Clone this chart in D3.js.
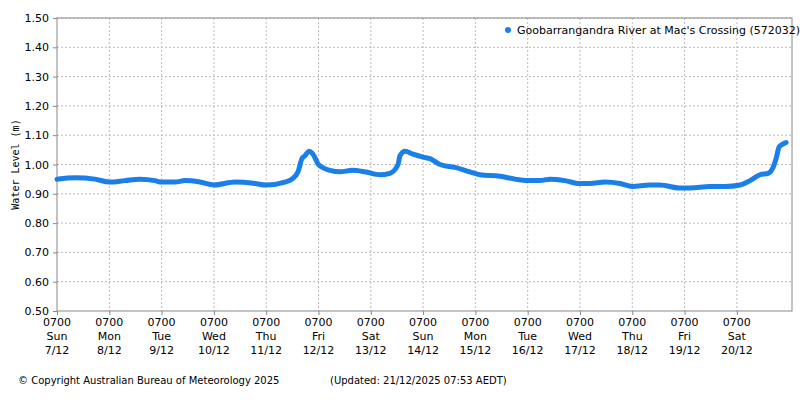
<!DOCTYPE html>
<html lang="en">
<head>
<script src="https://d3js.org/d3.v7.min.js"></script>
<style>
  body { margin: 0; background: #fff; }
  text { font-family: "DejaVu Sans", Verdana, sans-serif; font-size: 11px; fill: #000; }
  .grid line { stroke: #bbb; stroke-dasharray: 2,2; }
</style>
</head>
<body>
<svg></svg>
<script>
    const width = 800;
    const height = 400;
    const svg = d3.select('svg').attr('width', width).attr('height', height);

    // hours since 0700 Sun 7/12 and water level (m)
    const hours = [0, 8.3, 17.4, 24, 31.2, 38.1, 45, 48, 54.2, 58.7, 65.6, 72, 81.7, 90.9, 96,
        104.6, 107.8, 110.6, 112.4, 113.8, 115.6, 117.5, 120, 125.3, 129.9, 135.4, 141.3, 148.2,
        152.8, 156.5, 157.4, 159.7, 163.4, 168, 171.2, 175.8, 182.6, 189.5, 194.1, 203.3, 210.2,
        216, 221.6, 226.2, 233.1, 240, 244.6, 251.5, 258.4, 264, 272, 276.6, 285.7, 290.5, 299.7,
        306.6, 313.5, 318, 322.6, 326.3, 328.6, 330, 331.4, 333.2, 334.6];
    const levels = [0.95, 0.955, 0.95, 0.94, 0.945, 0.95, 0.945, 0.94, 0.94, 0.945, 0.94, 0.93, 0.94, 0.935, 0.93,
        0.94, 0.95, 0.975, 1.02, 1.03, 1.045, 1.035, 1.0, 0.98, 0.975, 0.98, 0.975, 0.965,
        0.97, 1.0, 1.03, 1.045, 1.035, 1.025, 1.02, 1.0, 0.99, 0.975, 0.965, 0.96, 0.95,
        0.945, 0.945, 0.95, 0.945, 0.935, 0.935, 0.94, 0.935, 0.925, 0.93, 0.93, 0.92, 0.92, 0.925,
        0.925, 0.93, 0.945, 0.965, 0.97, 0.99, 1.02, 1.06, 1.07, 1.075];
    const dayNames = ['Sun', 'Mon', 'Tue', 'Wed', 'Thu', 'Fri', 'Sat', 'Sun', 'Mon', 'Tue', 'Wed', 'Thu', 'Fri', 'Sat'];
    const dayDates = ['7/12', '8/12', '9/12', '10/12', '11/12', '12/12', '13/12', '14/12', '15/12', '16/12', '17/12', '18/12', '19/12', '20/12'];
    const yTicks = d3.range(0.5, 1.501, 0.1);

    const t0 = new Date(2025, 11, 7, 7, 0);
    const toDate = (h) => new Date(t0.getTime() + h * 3600e3);
    const data = hours.map((h, i) => ({t: toDate(h), v: levels[i]}));

    const pLeft = 57, pRight = 792, pTop = 18, pBottom = 311;
    const x = d3.scaleTime().domain([t0, toDate(337.3)]).range([pLeft, pRight]);
    const y = d3.scaleLinear().domain([0.5, 1.5]).range([pBottom, pTop]);
    const xTicks = dayNames.map((d, i) => toDate(i * 24));

    // grid
    const grid = svg.append('g').attr('class', 'grid');
    grid.selectAll('.gx').data(xTicks.slice(1)).enter().append('line')
        .attr('x1', (d) => x(d)).attr('x2', (d) => x(d)).attr('y1', pTop).attr('y2', pBottom);
    grid.selectAll('.gy').data(yTicks.slice(1)).enter().append('line')
        .attr('x1', pLeft).attr('x2', pRight).attr('y1', (d) => y(d)).attr('y2', (d) => y(d));

    // frame
    svg.append('rect').attr('x', pLeft).attr('y', pTop).attr('width', pRight - pLeft).attr('height', pBottom - pTop)
        .attr('fill', 'none').attr('stroke', '#888');

    // y axis
    const ya = svg.append('g').attr('transform', `translate(${pLeft},0)`)
        .call(d3.axisLeft(y).tickValues(yTicks).tickFormat(d3.format('.2f')).tickSize(4));
    ya.select('.domain').remove();
    ya.selectAll('line').attr('stroke', '#888');
    ya.selectAll('text').attr('dx', -1);

    // x axis
    const xa = svg.append('g').attr('transform', `translate(0,${pBottom})`)
        .call(d3.axisBottom(x).tickValues(xTicks).tickFormat('').tickSize(4));
    xa.select('.domain').remove();
    xa.selectAll('line').attr('stroke', '#888');
    const lab = svg.append('g').selectAll('text').data(xTicks).enter().append('text')
        .attr('x', (d) => x(d)).attr('y', pBottom + 15).attr('text-anchor', 'middle');
    lab.append('tspan').attr('x', (d) => x(d)).text('0700');
    lab.append('tspan').attr('x', (d) => x(d)).attr('dy', 14).text((d, i) => dayNames[i]);
    lab.append('tspan').attr('x', (d) => x(d)).attr('dy', 14).text((d, i) => dayDates[i]);

    svg.append('text').attr('transform', `translate(19,${(pTop + pBottom) / 2}) rotate(-90)`)
        .attr('text-anchor', 'middle').style('font-family', '"DejaVu Sans Mono", monospace').style('font-size', '10px')
        .text('Water Level (m)');

    // series
    const line = d3.line().x((d) => x(d.t)).y((d) => y(d.v)).curve(d3.curveMonotoneX);
    svg.append('path').datum(data).attr('d', line).attr('fill', 'none')
        .attr('stroke', '#1a7fe8').attr('stroke-width', 5).attr('stroke-linecap', 'round');

    // legend
    svg.append('circle').attr('cx', 508).attr('cy', 30).attr('r', 3).attr('fill', '#1a7fe8');
    svg.append('text').attr('x', 517).attr('y', 34).text("Goobarrangandra River at Mac's Crossing (572032)");

    svg.append('text').attr('x', 18).attr('y', 384).style('font-size', '10px')
        .text('© Copyright Australian Bureau of Meteorology 2025');
    svg.append('text').attr('x', 330).attr('y', 384).style('font-size', '10px')
        .text('(Updated: 21/12/2025 07:53 AEDT)');
</script>
</body>
</html>
